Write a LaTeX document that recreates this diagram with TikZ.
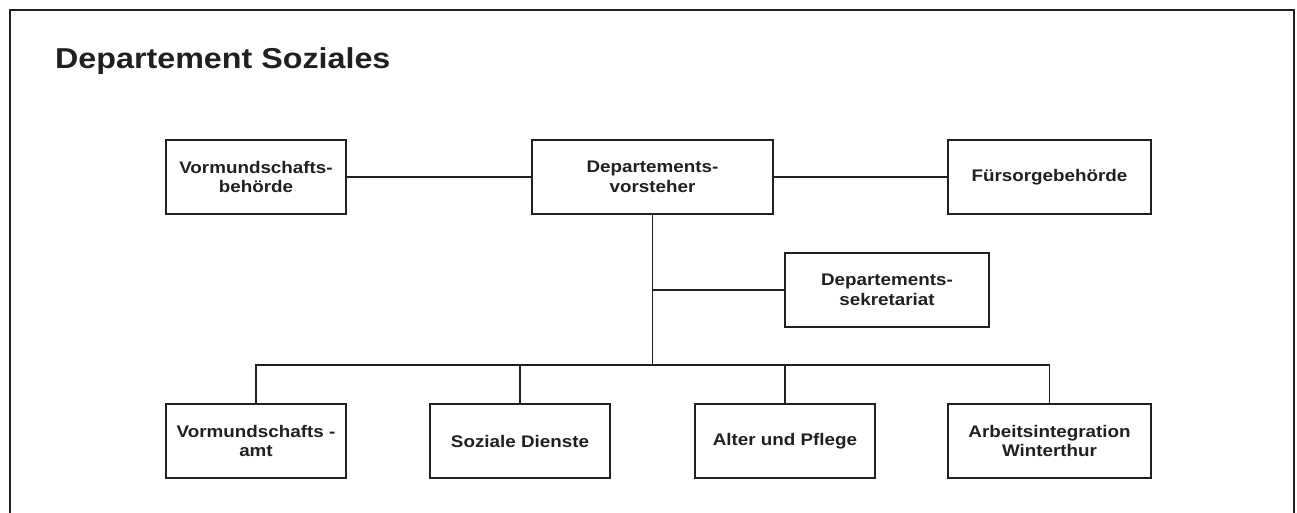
\documentclass[tikz,border=0pt]{standalone}
\usepackage{fontspec}
\setmainfont[FakeStretch=1.12]{Liberation Sans}
\usetikzlibrary{positioning}

\definecolor{orgink}{HTML}{231F20}

\begin{document}
\begin{tikzpicture}[x=1pt, y=-1pt,
    unit/.style={rectangle, draw=orgink, line width=1.5pt, fill=white,
                 minimum width=180pt, minimum height=74pt, align=center,
                 text=orgink, font=\fontsize{16.8}{19.8}\selectfont\bfseries},
    wide/.style={unit, minimum width=203pt},
    link/.style={orgink, line width=1.5pt},
  ]
    \useasboundingbox (0,0) rectangle (1297,512);
    % frame and title
    \draw[orgink, line width=1.7pt] (10,530) -- (10,10) -- (1294,10) -- (1294,530);
    \node[anchor=base west, inner sep=0pt, text=orgink,
          font=\fontsize{28.8}{32}\selectfont\bfseries] (title) at (55,68) {Departement Soziales};

    % top row
    \node[unit, minimum width=241pt] (vorst) at (652.5,177) {Departements-\\vorsteher};
    \node[unit, left=184.5pt of vorst] (vbeh) {Vormundschafts-\\behörde};
    \node[wide, right=173.5pt of vorst] (fuers) {Fürsorgebehörde};
    \node[wide, minimum width=204pt] (sekr) at (887,290) {Departements-\\sekretariat};

    % bottom row
    \node[unit] (vamt) at (256,441) {Vormundschafts -\\amt};
    \node[unit, right=82.5pt of vamt] (sozd) {Soziale Dienste};
    \node[unit, right=83.5pt of sozd] (alter) {Alter und Pflege};
    \node[wide, right=71.5pt of alter] (arbeit) {Arbeitsintegration\\Winterthur};

    \coordinate (bus) at (652.5,365);

    \draw[link] (vbeh) -- (vorst);
    \draw[link] (vorst) -- (fuers);
    \draw[link] (vorst.south) -- (bus);
    \draw[link] (vorst.south |- sekr.west) -- (sekr.west);
    \draw[link] (vamt.north) |- (bus) -| (arbeit.north);
    \draw[link] (sozd.north) -- (sozd.north |- bus);
    \draw[link] (alter.north) -- (alter.north |- bus);
  \end{tikzpicture}
\end{document}
